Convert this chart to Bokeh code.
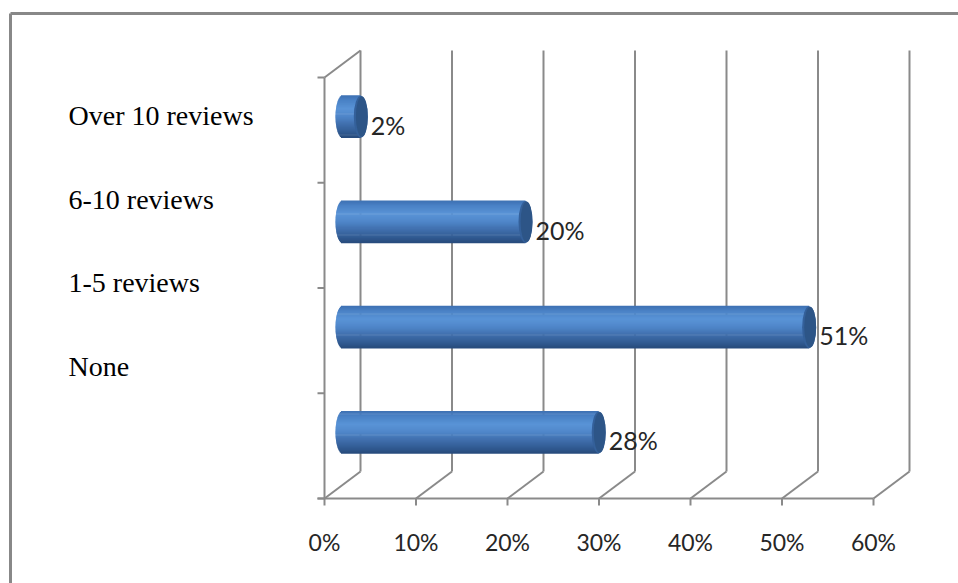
import numpy as np
from bokeh.plotting import figure
from bokeh.models import Range1d
from bokeh.core.properties import value
from bokeh.embed import file_html
from bokeh.resources import INLINE

# ---------------- data ----------------
categories = ["None", "1-5 reviews", "6-10 reviews", "Over 10 reviews"]   # bottom -> top
percentages = [28, 51, 20, 2]
x_ticks = [0, 10, 20, 30, 40, 50, 60]
x_tick_labels = ["0%", "10%", "20%", "30%", "40%", "50%", "60%"]

# ---------------- layout ----------------
W, H = 958, 583
X0_PX, X60_PX = 324, 873      # screen position of 0% and 60% on the front axis
Y0_PX, YTOP_PX = 498, 77      # front floor line and top of the category axis
KX = (X60_PX - X0_PX) / 60.0  # px per percent
KY = (Y0_PX - YTOP_PX) / 4.0  # px per category


def sx(px):
    return (px - X0_PX) / KX


def sy(py):
    return (Y0_PX - py) / KY


DX = 36 / KX      # depth offset (x)
DY = 27 / KY      # depth offset (y)
GRAY = "#8a8a8a"

p = figure(width=W, height=H, title=None,
           x_range=Range1d(sx(0), sx(W)), y_range=Range1d(sy(H), sy(0)),
           x_axis_location=None, y_axis_location=None,
           output_backend="svg", toolbar_location=None, min_border=0)
p.grid.visible = False
p.outline_line_color = None
p.background_fill_color = "white"
p.border_fill_color = "white"

n_cat = len(categories)
xmax = x_ticks[-1]

# outer frame (top and left edges)
p.segment(x0=[sx(10), sx(10)], y0=[sy(13), sy(13)], x1=[sx(W), sx(10)], y1=[sy(13), sy(H)],
          line_color="#888888", line_width=3)

# back wall gridlines
xt = np.array(x_ticks, dtype=float)
p.segment(x0=xt + DX, y0=[DY] * len(xt), x1=xt + DX, y1=[n_cat + DY] * len(xt),
          line_color=GRAY, line_width=2)
# floor diagonals
p.segment(x0=xt, y0=[0] * len(xt), x1=xt + DX, y1=[DY] * len(xt),
          line_color=GRAY, line_width=2)
# side wall: front vertical axis + top edge
p.segment(x0=[0, 0], y0=[0, n_cat], x1=[0, DX], y1=[n_cat, n_cat + DY],
          line_color=GRAY, line_width=2)
# category ticks
tick_len_x = 7 / KX
cy = np.arange(n_cat + 1, dtype=float)
p.segment(x0=[-tick_len_x] * len(cy), y0=cy, x1=[0] * len(cy), y1=cy,
          line_color=GRAY, line_width=2)
# value axis line + ticks
p.segment(x0=[-tick_len_x], y0=[0], x1=[xmax], y1=[0], line_color=GRAY, line_width=2)
p.segment(x0=xt, y0=[0] * len(xt), x1=xt, y1=[-7 / KY] * len(xt),
          line_color=GRAY, line_width=2)
# value tick labels
p.text(x=xt, y=[sy(541)] * len(xt), text=x_tick_labels,
       text_font=value("Lato"), text_font_size="23px", text_color="#262626",
       text_align="center", text_baseline="middle")

# ---------------- cylinders ----------------
half_h = 21 / KY
cap_a = 7 / KX
stops_t = [0.0, 0.12, 0.32, 0.5, 0.7, 0.88, 1.0]
stops_c = [(0x3e, 0x71, 0xb3), (0x4a, 0x82, 0xc6), (0x5a, 0x94, 0xd7),
           (0x50, 0x87, 0xca), (0x3f, 0x6e, 0xac), (0x31, 0x5b, 0x92), (0x28, 0x4b, 0x7c)]
NS = 40


def shade(t):
    r = np.interp(t, stops_t, [c[0] for c in stops_c])
    g = np.interp(t, stops_t, [c[1] for c in stops_c])
    b = np.interp(t, stops_t, [c[2] for c in stops_c])
    return "#%02x%02x%02x" % (int(r), int(g), int(b))


for i, v in enumerate(percentages):
    yc = i + 0.5 + DY / 2
    x_left = DX / 2
    x_right = v + DX / 2
    ts = (np.arange(NS) + 0.5) / NS
    ys = yc + half_h - ts * 2 * half_h
    u = 2 * ts - 1
    lefts = x_left - cap_a * np.sqrt(np.clip(1 - u ** 2, 0, 1))
    cols = [shade(t) for t in ts]
    p.hbar(y=ys, left=lefts, right=[x_right] * NS, height=2 * half_h / NS * 1.6,
           fill_color=cols, line_color=None)
    # end cap
    p.ellipse(x=[x_right], y=[yc], width=[2 * cap_a], height=[2 * half_h],
              fill_color="#34609a", line_color=None)
    p.ellipse(x=[x_right + cap_a * 0.15], y=[yc], width=[2 * cap_a * 0.85], height=[2 * half_h * 0.96],
              fill_color="#2d5587", line_color=None)

# data labels
lab_x = [v + DX / 2 + cap_a + 3 / KX for v in percentages]
lab_y = [i + 0.5 + DY / 2 - 8 / KY for i in range(n_cat)]
p.text(x=lab_x, y=lab_y, text=["%d%%" % v for v in percentages],
       text_font=value("Lato"), text_font_size="25px", text_color="#262626",
       text_align="left", text_baseline="middle")

# category labels (left text block)
cat_label_y = [sy(115 + 83.5 * (n_cat - 1 - i)) for i in range(n_cat)]
p.text(x=[sx(68)] * n_cat, y=cat_label_y, text=categories,
       text_font=value("Liberation Serif"), text_font_size="28px", text_color="black",
       text_align="left", text_baseline="middle")

open("out.html", "w").write(file_html(p, INLINE))
